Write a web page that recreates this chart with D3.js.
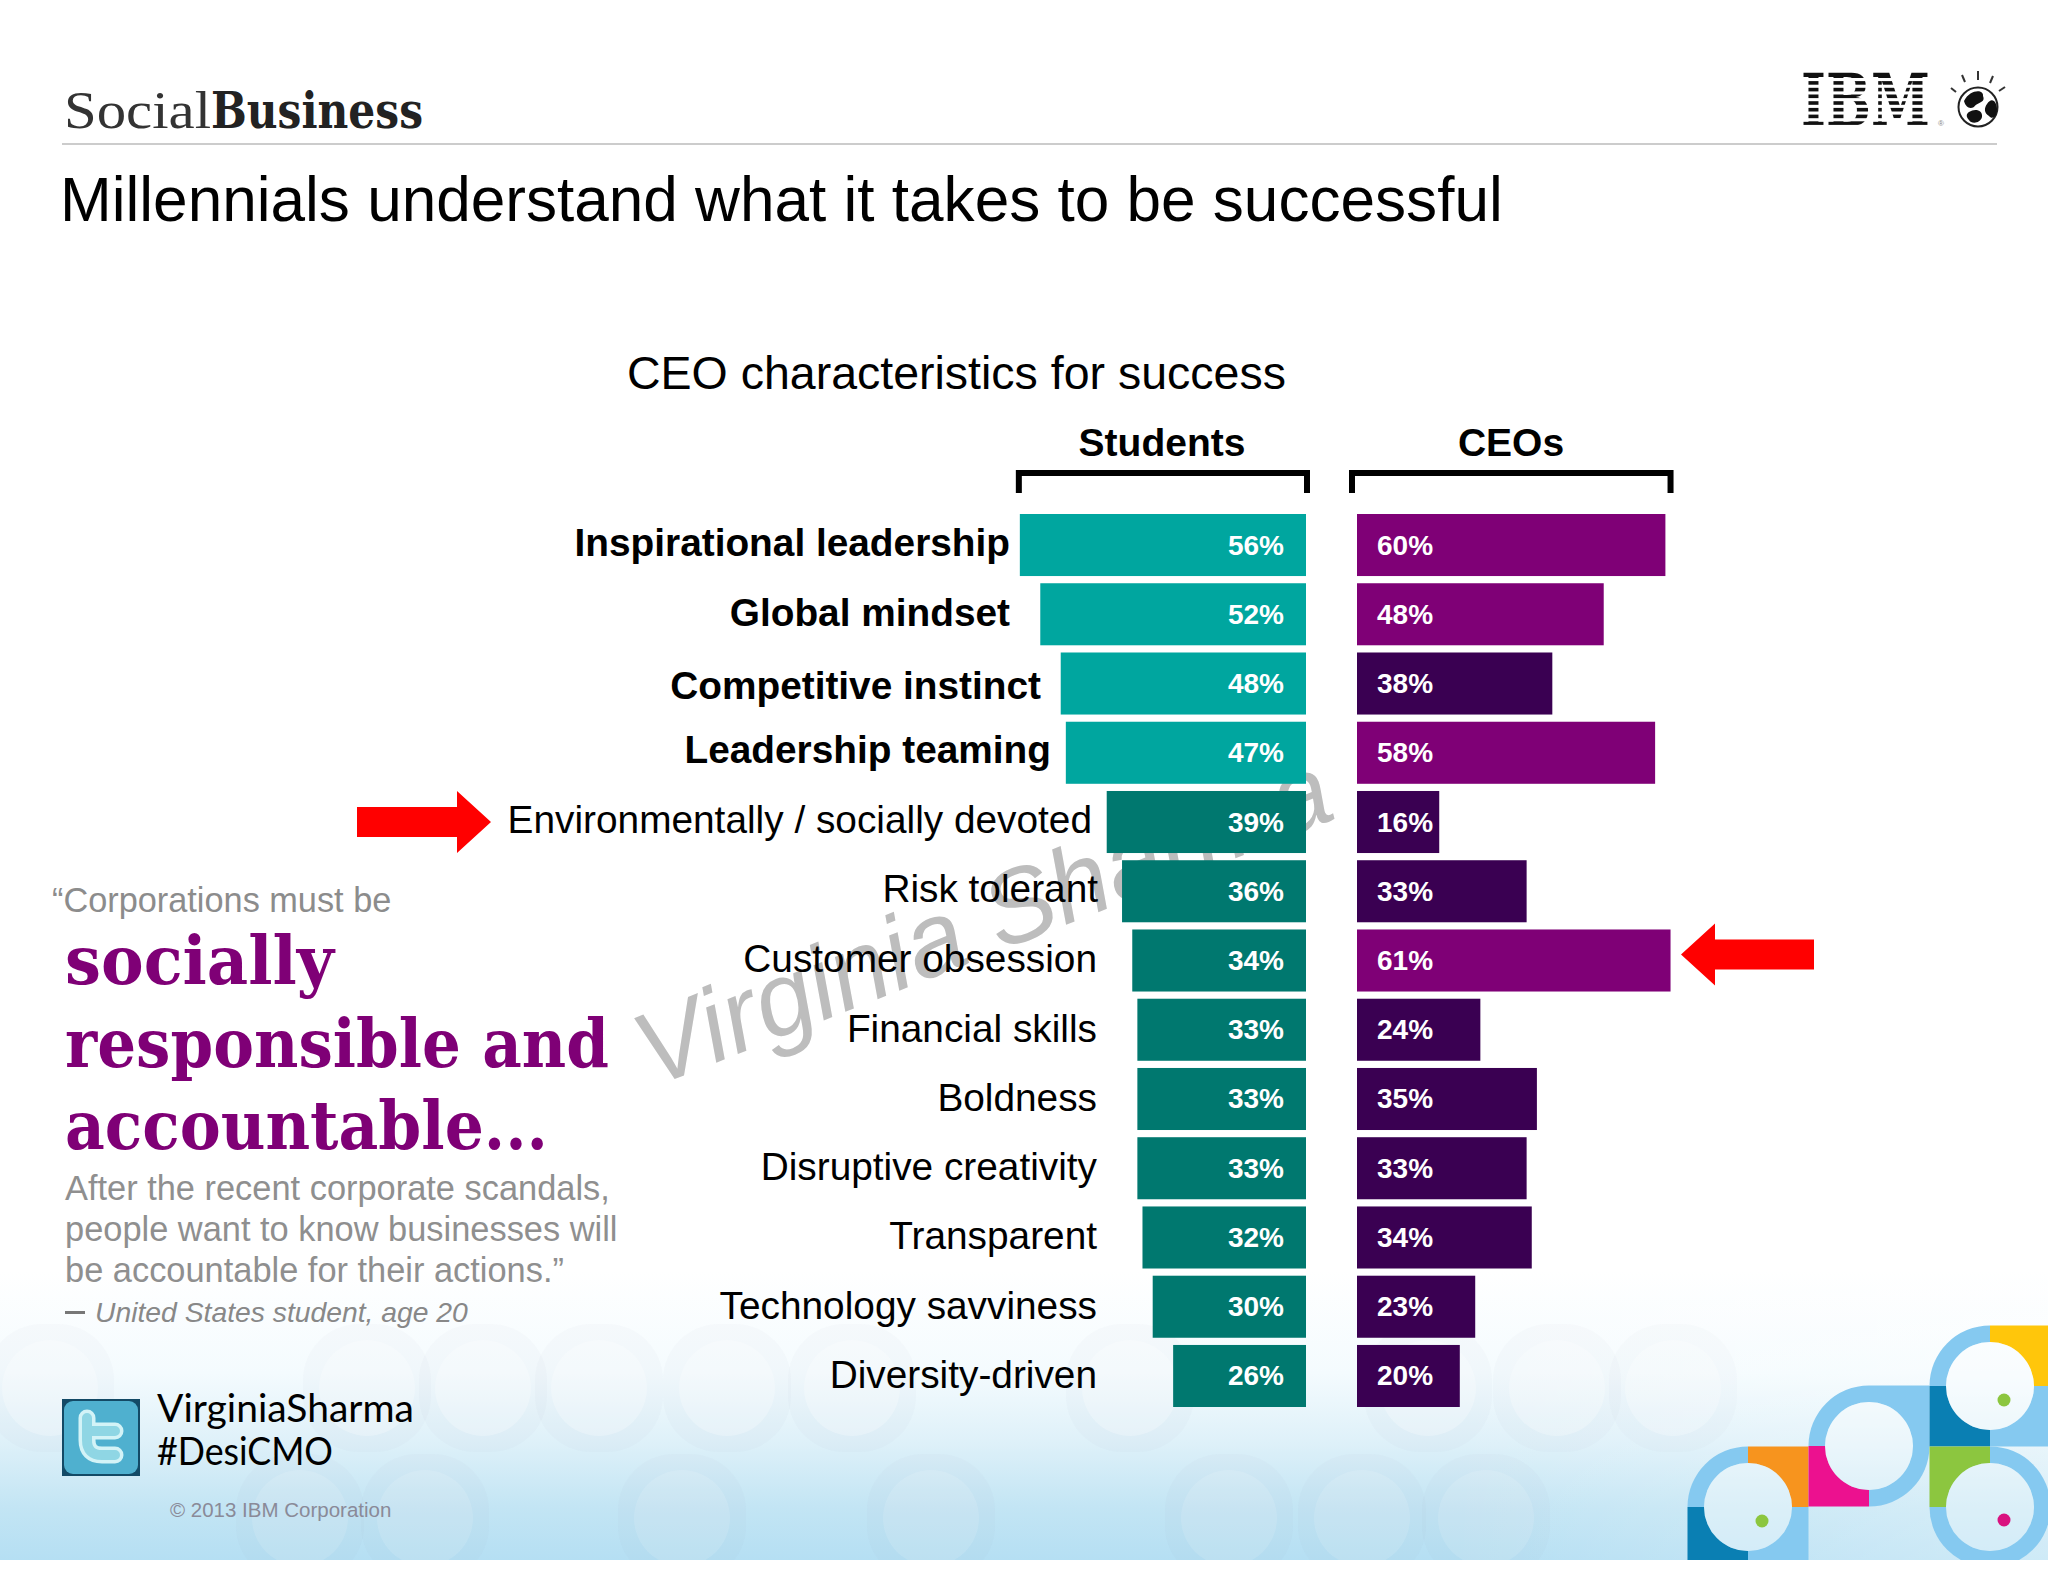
<!DOCTYPE html>
<html>
<head>
<meta charset="utf-8">
<title>Millennials understand what it takes to be successful</title>
<script src="https://cdnjs.cloudflare.com/ajax/libs/d3/7.8.5/d3.min.js"></script>
<style>
  html, body { margin: 0; padding: 0; background: #fff; }
  svg { display: block; }
  text { font-family: "Liberation Sans", Arial, sans-serif; }
</style>
</head>
<body>
<svg id="chart" width="2048" height="1582"></svg>
<script>
const traits = [
  "Inspirational leadership", "Global mindset", "Competitive instinct", "Leadership teaming",
  "Environmentally / socially devoted", "Risk tolerant", "Customer obsession", "Financial skills",
  "Boldness", "Disruptive creativity", "Transparent", "Technology savviness", "Diversity-driven"
];
const students = [56, 52, 48, 47, 39, 36, 34, 33, 33, 33, 32, 30, 26];
const ceos = [60, 48, 38, 58, 16, 33, 61, 24, 35, 33, 34, 23, 20];
const boldTraits = ["Inspirational leadership", "Global mindset", "Competitive instinct", "Leadership teaming"];
const ceoHighlights = [60, 48, 58, 61];

const quoteLines = ["After the recent corporate scandals,", "people want to know businesses will", "be accountable for their actions.”"];
const quoteBig = ["socially", "responsible and", "accountable..."];

// label layout, the slide does not line these up exactly
const labelRight = [1010, 1010, 1041, 1051, 1092, 1098, 1097, 1097, 1097, 1097, 1097, 1097, 1097];
const labelNudge = [11, 11.5, 15, 10, 11, 10.5, 11, 12, 12, 11.5, 12, 12, 12];

const svg = d3.select("#chart");
const defs = svg.append("defs");

const bg = defs.append("linearGradient").attr("id", "footerFade")
  .attr("gradientUnits", "userSpaceOnUse")
  .attr("x1", 0).attr("y1", 1270).attr("x2", 0).attr("y2", 1560);
[[0, "#ffffff"], [0.355, "#f4fbfe"], [0.586, "#dff1f9"], [0.817, "#c3e5f4"], [1, "#b5dff3"]].forEach(([offset, color]) => {
  bg.append("stop").attr("offset", offset).attr("stop-color", color);
});

const sheen = defs.append("linearGradient").attr("id", "footerSheen")
  .attr("gradientUnits", "userSpaceOnUse")
  .attr("x1", 1450).attr("y1", 0).attr("x2", 2048).attr("y2", 0);
sheen.append("stop").attr("offset", 0).attr("stop-color", "#fff").attr("stop-opacity", 0);
sheen.append("stop").attr("offset", 1).attr("stop-color", "#fff").attr("stop-opacity", 0.35);

defs.append("clipPath").attr("id", "footerClip")
  .append("rect").attr("x", 0).attr("y", 1270).attr("width", 2048).attr("height", 290);

// footer background
svg.append("rect").attr("x", 0).attr("y", 1270).attr("width", 2048).attr("height", 290).attr("fill", "url(#footerFade)");

// pale rounded tiles behind the footer
const ghosts = svg.append("g").attr("clip-path", "url(#footerClip)");
const ghostTile = (cx, cy, white) => {
  ghosts.append("rect").attr("x", cx - 64).attr("y", cy - 64).attr("width", 128).attr("height", 128).attr("rx", 56)
    .attr("fill", "#8f9aa6").attr("fill-opacity", 0.035);
  ghosts.append("circle").attr("cx", cx).attr("cy", cy).attr("r", 48)
    .attr("fill", "#fff").attr("fill-opacity", white);
};
[50, 367, 483, 599, 727, 852, 1130, 1428, 1557, 1673].forEach((cx) => ghostTile(cx, 1388, 0.25));
[300, 425, 682, 931, 1229, 1362, 1486].forEach((cx) => ghostTile(cx, 1518, 0.12));

svg.append("rect").attr("x", 1450).attr("y", 1270).attr("width", 598).attr("height", 290).attr("fill", "url(#footerSheen)");

// bottom right logo blocks
const blocks = svg.append("g").attr("clip-path", "url(#footerClip)");
const cell = 60.5;
const ringBlue = "#85c9f0";
const logoCircles = [
  { cx: 1748, cy: 1507, q: [ringBlue, "#f7941e", "#0a7fb3", ringBlue], ring: [1, 0, 0, 0] },
  { cx: 1869, cy: 1446, q: [ringBlue, ringBlue, "#ec118f", ringBlue], ring: [1, 0, 0, 1] },
  { cx: 1990, cy: 1386, q: [ringBlue, "#ffc60b", "#0a7fb3", ringBlue], ring: [1, 0, 0, 0] },
  { cx: 1990, cy: 1507, q: ["#8cc63f", ringBlue, ringBlue, ringBlue], ring: [0, 1, 1, 1] }
];
const quadrantArc = d3.arc().innerRadius(0).outerRadius(cell);
logoCircles.forEach((c) => {
  const g = blocks.append("g").attr("transform", `translate(${c.cx},${c.cy})`);
  const spots = [[-1, -1], [0, -1], [-1, 0], [0, 0]];
  const angles = [[-Math.PI / 2, 0], [0, Math.PI / 2], [Math.PI, 1.5 * Math.PI], [Math.PI / 2, Math.PI]];
  spots.forEach(([sx, sy], i) => {
    if (c.ring[i]) {
      g.append("path").attr("fill", c.q[i])
        .attr("d", quadrantArc({ startAngle: angles[i][0], endAngle: angles[i][1] }));
    } else {
      g.append("rect").attr("x", sx * cell).attr("y", sy * cell).attr("width", cell).attr("height", cell).attr("fill", c.q[i]);
    }
  });
  g.append("circle").attr("r", 44).attr("fill", "url(#footerFade)").attr("transform", `translate(${-c.cx},${-c.cy})`)
    .attr("cx", c.cx).attr("cy", c.cy);
  g.append("circle").attr("r", 44).attr("fill", "#fff").attr("fill-opacity", 0.4);
});
[[2004, 1400, "#8cc63f"], [1762, 1521, "#8cc63f"], [2004, 1520, "#d9127f"]].forEach(([cx, cy, fill]) => {
  blocks.append("circle").attr("cx", cx).attr("cy", cy).attr("r", 6.5).attr("fill", fill);
});

// watermark goes under everything else
svg.append("text")
  .attr("transform", "translate(652,1088) rotate(-21.5)")
  .attr("font-size", 104)
  .attr("font-style", "italic")
  .attr("fill", "#bdbdbd")
  .text("Virginia Sharma");

// header
svg.append("text").attr("x", 64).attr("y", 128)
  .attr("font-size", 52).attr("fill", "#333")
  .attr("textLength", 147).attr("lengthAdjust", "spacingAndGlyphs").style("font-family", "'Liberation Serif'")
  .text("Social");
svg.append("text").attr("x", 211).attr("y", 128)
  .attr("font-weight", "bold").attr("font-size", 50).attr("fill", "#222")
  .attr("textLength", 212).attr("lengthAdjust", "spacingAndGlyphs").style("font-family", "'DejaVu Serif'")
  .text("Business");
svg.append("line").attr("x1", 62).attr("x2", 1997).attr("y1", 144).attr("y2", 144)
  .attr("stroke", "#cccccc").attr("stroke-width", 2);
svg.append("text").attr("x", 60).attr("y", 221).attr("font-size", 62.1).attr("fill", "#000")
  .text("Millennials understand what it takes to be successful");

// IBM logo: a slab word cut with white stripes
svg.append("text").attr("transform", "translate(1801,126) scale(0.74,1)")
  .attr("font-weight", "bold").attr("font-size", 72).attr("fill", "#111")
  .style("font-family", "'DejaVu Serif'")
  .text("IBM");
svg.append("g").selectAll("rect").data(d3.range(8)).enter().append("rect")
  .attr("x", 1798).attr("width", 136)
  .attr("y", (i) => 78 + i * 6.7).attr("height", 3.1).attr("fill", "#fff");
svg.append("text").attr("x", 1938).attr("y", 126).attr("font-size", 8).attr("fill", "#888").text("®");

const globe = svg.append("g").attr("transform", "translate(1978,107)");
globe.append("circle").attr("r", 19.5).attr("fill", "#fff").attr("stroke", "#222").attr("stroke-width", 2);
["M-14,-6 C-8,-18 6,-18 5,-11 C8,-4 -1,-5 -4,0 C-8,2 -12,1 -14,-6Z",
  "M-9,5 C-3,1 5,3 4,10 C2,17 -7,17 -9,13 C-12,10 -12,7 -9,5Z",
  "M9,-3 C14,-11 19,-5 19,2 C19,10 14,13 11,9 C6,6 6,1 9,-3Z"].forEach((d) => {
  globe.append("path").attr("d", d).attr("fill", "#111");
});
[[-27, -19, -22, -15], [-16, -32, -13, -25], [0, -36, 0, -27], [15, -31, 12, -24], [27, -20, 21, -16]].forEach(([x1, y1, x2, y2]) => {
  globe.append("line").attr("x1", x1).attr("y1", y1).attr("x2", x2).attr("y2", y2)
    .attr("stroke", "#333").attr("stroke-width", 2);
});

// chart
const rows = traits.map((name, i) => ({ name, student: students[i], ceo: ceos[i], right: labelRight[i], nudge: labelNudge[i] }));

const y = d3.scaleBand().domain(traits).range([514, 1407]).paddingInner(0.104).paddingOuter(0);
const xStudents = d3.scaleLinear().domain([0, 100]).range([1306, 795]);
const xCeos = d3.scaleLinear().domain([0, 100]).range([1357, 1871]);

svg.append("text").attr("x", 627).attr("y", 389).attr("font-size", 46.5).attr("fill", "#000")
  .text("CEO characteristics for success");

const heads = [
  { name: "Students", cx: 1162, left: xStudents(56) - 1, right: xStudents(0) + 1 },
  { name: "CEOs", cx: 1511, left: xCeos(0) - 5, right: xCeos(61) },
];
heads.forEach((h) => {
  svg.append("text").attr("x", h.cx).attr("y", 456).attr("text-anchor", "middle")
    .attr("font-size", 39).attr("font-weight", "bold").attr("fill", "#000").text(h.name);
  svg.append("path")
    .attr("d", `M${h.left},493 V473 H${h.right} V493`)
    .attr("fill", "none").attr("stroke", "#000").attr("stroke-width", 6);
});

svg.append("g").selectAll("rect").data(rows).enter().append("rect")
  .attr("x", (d) => xStudents(d.student))
  .attr("y", (d) => y(d.name))
  .attr("width", (d) => xStudents(0) - xStudents(d.student))
  .attr("height", y.bandwidth())
  .attr("fill", (d) => (boldTraits.includes(d.name) ? "#00a69f" : "#00786f"));

svg.append("g").selectAll("rect").data(rows).enter().append("rect")
  .attr("x", xCeos(0))
  .attr("y", (d) => y(d.name))
  .attr("width", (d) => xCeos(d.ceo) - xCeos(0))
  .attr("height", y.bandwidth())
  .attr("fill", (d) => (ceoHighlights.includes(d.ceo) ? "#7f0076" : "#3a0052"));

svg.append("g").selectAll("text").data(rows).enter().append("text")
  .attr("x", (d) => d.right)
  .attr("y", (d) => y(d.name) + y.bandwidth() / 2 + d.nudge)
  .attr("text-anchor", "end")
  .attr("font-size", 38.8)
  .attr("font-weight", (d) => (boldTraits.includes(d.name) ? "bold" : "normal"))
  .attr("fill", "#000")
  .text((d) => d.name);

svg.append("g").selectAll("text").data(rows).enter().append("text")
  .attr("x", xStudents(0) - 22)
  .attr("y", (d) => y(d.name) + y.bandwidth() / 2 + 9.5)
  .attr("text-anchor", "end").attr("font-size", 28).attr("font-weight", "bold").attr("fill", "#fff")
  .text((d) => `${d.student}%`);

svg.append("g").selectAll("text").data(rows).enter().append("text")
  .attr("x", xCeos(0) + 20)
  .attr("y", (d) => y(d.name) + y.bandwidth() / 2 + 9.5)
  .attr("font-size", 28).attr("font-weight", "bold").attr("fill", "#fff")
  .text((d) => `${d.ceo}%`);

// red arrows, tied to the two rows they call out
const arrowPath = (tipX, cy, dir, len) => {
  const neck = tipX - dir * 34;
  const tail = tipX - dir * len;
  return `M${tipX},${cy} L${neck},${cy - 31} V${cy - 15} H${tail} V${cy + 15} H${neck} V${cy + 31}Z`;
};
const rowMid = (name) => y(name) + y.bandwidth() / 2;
svg.append("path").attr("fill", "#ff0000").attr("d", arrowPath(491, rowMid(traits[4]), 1, 134));
svg.append("path").attr("fill", "#ff0000").attr("d", arrowPath(1681, rowMid(traits[6]) - 6, -1, 133));

// left quote
svg.append("text").attr("x", 52).attr("y", 912).attr("font-size", 34.3).attr("fill", "#8c8c8c")
  .text("“Corporations must be");
const bigWidths = [269, 544, 483];
quoteBig.forEach((line, i) => {
  svg.append("text").attr("x", 65).attr("y", 984 + i * 82.5)
    .attr("font-size", 68).attr("font-weight", "bold").attr("fill", "#7f0076")
    .attr("textLength", bigWidths[i]).attr("lengthAdjust", "spacingAndGlyphs").style("font-family", "'DejaVu Serif'")
    .text(line);
});
quoteLines.forEach((line, i) => {
  svg.append("text").attr("x", 65).attr("y", 1200 + i * 41).attr("font-size", 34.4).attr("fill", "#8f8f8f").text(line);
});
svg.append("rect").attr("x", 65).attr("y", 1311).attr("width", 20).attr("height", 3).attr("fill", "#777");
svg.append("text").attr("x", 95).attr("y", 1322).attr("font-size", 28.3).attr("font-style", "italic").attr("fill", "#888")
  .text("United States student, age 20");

// twitter badge and handle
svg.append("rect").attr("x", 62).attr("y", 1399).attr("width", 78).attr("height", 77).attr("fill", "#134a66");
svg.append("rect").attr("x", 64).attr("y", 1401).attr("width", 74).attr("height", 73).attr("rx", 9).attr("fill", "#4fb0cf");
const birdT = "M87,1418 V1440 Q87,1455 102,1455 H115 M87,1431 H115";
svg.append("path").attr("d", birdT).attr("fill", "none").attr("stroke", "#d3f3f7").attr("stroke-width", 17).attr("stroke-linecap", "round");
svg.append("path").attr("d", birdT).attr("fill", "none").attr("stroke", "#8fd6e4").attr("stroke-width", 10).attr("stroke-linecap", "round");
svg.append("text").attr("x", 157).attr("y", 1422).attr("font-size", 39).attr("fill", "#000")
  .style("font-family", "Lato").text("VirginiaSharma");
svg.append("text").attr("x", 157).attr("y", 1465).attr("font-size", 39).attr("fill", "#000")
  .attr("textLength", 176).attr("lengthAdjust", "spacingAndGlyphs")
  .style("font-family", "Lato").text("#DesiCMO");
svg.append("text").attr("x", 170).attr("y", 1517).attr("font-size", 20.5).attr("fill", "#8a8a98").text("© 2013 IBM Corporation");
</script>
</body>
</html>
